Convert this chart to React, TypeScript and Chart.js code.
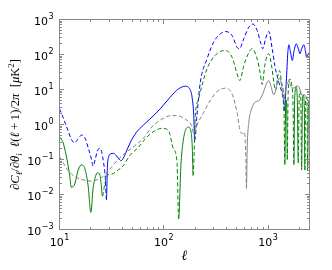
import React, { useEffect, useRef } from "react";
import { Chart, registerables } from "chart.js";

Chart.register(...registerables);

// multipole values and signed derivative values (negative => dashed)
const blueEll = [10, 10.5, 11, 12, 13, 13.9, 15, 16.3, 17.5, 19, 20.3, 21, 22, 23, 24.2, 25.3, 26.5, 27.5, 28.2, 28.8, 29.6, 31, 32.9, 35, 37, 39, 41, 43, 47.6, 54.7, 63.5, 74, 92.5, 115, 139, 161, 177, 187, 194, 198, 208, 224, 260, 301, 349, 390, 452, 505, 532, 585, 654, 717, 787, 847, 892, 946, 1019, 1097, 1162, 1270, 1400, 1432, 1496, 1550, 1585, 1640, 1709, 1780, 1867, 1950, 2022, 2110, 2210, 2290, 2345, 2420, 2500];
const blueVal = [-2.8, -2.0, -1.4, -0.7, -0.38, -0.3, -0.38, -0.5, -0.42, -0.2, -0.1, -0.065, -0.1, -0.17, -0.21, -0.17, -0.08, -0.03, 0.007, 0.06, 0.12, 0.145, 0.15, 0.13, 0.105, 0.093, 0.11, 0.15, 0.3, 0.6, 0.95, 1.45, 2.8, 6.0, 10.5, 12.4, 10.5, 6, 1.8, 0.35, -1.8, -16, -75, -225, -390, -454, -350, -160, -146, -280, -600, -740, -485, -225, -146, -280, -454, -146, -48, -16, -5, 2.5, 16, 116, 190, 120, 67, 130, 202, 150, 105, 150, 190, 120, 84, 100, 115];

const greenEll = [10, 10.4, 10.8, 11.6, 12.5, 13, 14, 15.1, 16.2, 17.5, 18.8, 20, 21, 22.1, 23.1, 24.4, 25.2, 25.8, 27.2, 28.8, 31.5, 36.5, 40.8, 47.3, 56.9, 66, 74, 85, 96, 111, 124, 134, 139, 146, 153, 161, 173, 183, 188, 191, 201, 216, 260, 301, 349, 390, 452, 505, 537, 585, 640, 705, 787, 840, 879, 931, 982, 1019, 1081, 1138, 1181, 1243, 1290, 1349, 1419, 1450, 1475, 1495, 1515, 1530, 1560, 1620, 1680, 1740, 1771, 1800, 1860, 1910, 1950, 1990, 2030, 2070, 2099, 2140, 2180, 2230, 2259, 2290, 2330, 2370, 2398, 2440, 2500];
const greenVal = [0.45, 0.38, 0.31, 0.13, 0.036, 0.016, 0.02, 0.05, 0.07, 0.055, 0.018, 0.0031, 0.015, 0.032, 0.042, 0.036, 0.018, 0.009, -0.02, -0.036, -0.038, -0.05, -0.066, -0.13, -0.22, -0.38, -0.53, -0.7, -0.78, -0.67, -0.2, -0.085, 0.002, 0.068, 0.31, 0.67, 0.84, 0.6, 0.2, 0.035, -1.8, -5.4, -39, -84, -122, -130, -84, -28, -18, -48, -98, -146, -75, -30, -14, -48, -94, -105, -48, -16, -9.4, -25, -35, -16, -4.3, 0.07, 3, 5, 2, -0.1, -8, -20, -15, -3, 0.07, 5, 12, 5, -0.08, -6, -9, -3, 0.05, 5, 7, 3, -0.05, -4, -6, -3, 0.05, 4, 5];

const grayEll = [10, 11, 12.1, 14, 16.2, 18, 20.2, 23.4, 27.2, 31.5, 36.5, 42.3, 53, 66, 74, 93, 120, 145, 160, 184, 195, 208, 241, 280, 325, 390, 452, 505, 546, 578, 595, 612, 621, 631, 654, 679, 710, 742, 790, 830, 870, 912, 960, 1019, 1070, 1138, 1190, 1240, 1298, 1360, 1419, 1470, 1530, 1585, 1660, 1771, 1870, 1977, 2060, 2133, 2210, 2300, 2400, 2500];
const grayVal = [-0.12, -0.075, -0.048, -0.033, -0.027, -0.025, -0.024, -0.027, -0.036, -0.06, -0.1, -0.15, -0.25, -0.45, -0.75, -1.35, -1.8, -1.7, -1.45, -0.95, -0.55, -0.95, -2.2, -4.9, -8.8, -10.9, -7.5, -2.2, -0.6, -0.55, -0.6, -0.13, 0.015, 0.2, 1.15, 2.2, 3.3, 4.2, 4.6, 5, 6.5, 9, 14, 18, 12, 7, 10, 17, 21, 11, 5, 9, 15, 17, 12, 11, 12.5, 12, 8.5, 6.7, 7.2, 6.5, 5.2, 4.5];

const xMajorTicks = [10, 100, 1000];
const xTickExps = ["1", "2", "3"];
const yMajorTicks = [1e-3, 1e-2, 1e-1, 1, 10, 100, 1000];
const yTickExps = ["\u22123", "\u22122", "\u22121", "0", "1", "2", "3"];
const xTitle = "\u2113";

const FRAME = "#888888";
const DASH = [4, 2.5];
const SANS = "'DejaVu Sans', sans-serif";
const SERIF = "'Liberation Serif', 'DejaVu Serif', serif";

function minorTicks(min: number, max: number): number[] {
  const out: number[] = [];
  for (let d = Math.floor(Math.log10(min)); d <= Math.ceil(Math.log10(max)); d++) {
    for (let k = 2; k <= 9; k++) {
      const v = k * Math.pow(10, d);
      if (v > min && v < max) out.push(v);
    }
  }
  return out;
}

function makeDataset(ell: number[], vals: number[], color: string) {
  return {
    data: ell.map((l, i) => ({ x: l, y: Math.abs(vals[i]) })),
    borderColor: color,
    borderWidth: 1,
    pointRadius: 0,
    fill: false,
    cubicInterpolationMode: "monotone" as const,
    segment: {
      borderDash: (ctx: any) => {
        const a = vals[ctx.p0DataIndex];
        const b = vals[ctx.p1DataIndex];
        const s = Math.abs(a) >= Math.abs(b) ? a : b;
        return s < 0 ? DASH : undefined;
      },
    },
  };
}

type Run = { t: string; it?: boolean; f?: number; dy?: number };
const yTitleRuns: Run[] = [
  { t: "\u2202" },
  { t: "C", it: true },
  { t: "\u2113", it: true, f: 0.7, dy: 0.22 },
  { t: "/\u2202" },
  { t: "\u03b8", it: true },
  { t: "i", it: true, f: 0.7, dy: 0.22 },
  { t: "\u2002" },
  { t: "\u2113", it: true },
  { t: "(" },
  { t: "\u2113", it: true },
  { t: "\u2009+\u20091)/2" },
  { t: "\u03c0", it: true },
  { t: "\u2002[" },
  { t: "\u03bc", it: true },
  { t: "K" },
  { t: "2", f: 0.7, dy: -0.42 },
  { t: "]" },
];

const axesPlugin = {
  id: "mplAxes",
  afterDatasetsDraw(chart: any) {
    const { ctx, chartArea: a, scales } = chart;
    const xs = scales.x;
    const ys = scales.y;
    ctx.save();
    ctx.strokeStyle = FRAME;
    ctx.lineWidth = 1;
    const line = (x1: number, y1: number, x2: number, y2: number) => {
      ctx.beginPath();
      ctx.moveTo(x1, y1);
      ctx.lineTo(x2, y2);
      ctx.stroke();
    };
    const snap = (p: number) => Math.floor(p) + 0.5;
    const MAJ = 4.5;
    const MIN = 2.5;
    const xTicks: [number, number][] = [
      ...xMajorTicks.map((v) => [v, MAJ] as [number, number]),
      ...minorTicks(10, 2500).map((v) => [v, MIN] as [number, number]),
    ];
    xTicks.forEach(([v, len]) => {
      const px = snap(xs.getPixelForValue(v));
      line(px, a.bottom, px, a.bottom - len);
      line(px, a.top, px, a.top + len);
    });
    const yTicks: [number, number][] = [
      ...yMajorTicks.map((v) => [v, MAJ] as [number, number]),
      ...minorTicks(1e-3, 1e3).map((v) => [v, MIN] as [number, number]),
    ];
    yTicks.forEach(([v, len]) => {
      const py = snap(ys.getPixelForValue(v));
      line(a.left, py, a.left + len, py);
      line(a.right, py, a.right - len, py);
    });
    ctx.strokeRect(a.left, a.top, a.right - a.left, a.bottom - a.top);

    ctx.fillStyle = "#000";
    ctx.textBaseline = "alphabetic";
    ctx.textAlign = "left";
    const baseFont = "11px " + SANS;
    const expFont = "8px " + SANS;
    const drawPow = (exp: string, x: number, baseY: number, align: string) => {
      ctx.font = baseFont;
      const wb = ctx.measureText("10").width;
      ctx.font = expFont;
      const we = ctx.measureText(exp).width;
      const total = wb + we + 0.5;
      const x0 = align === "right" ? x - total : x - total / 2;
      ctx.font = baseFont;
      ctx.fillText("10", x0, baseY);
      ctx.font = expFont;
      ctx.fillText(exp, x0 + wb + 0.5, baseY - 6);
    };
    xMajorTicks.forEach((v, i) => {
      drawPow(xTickExps[i], xs.getPixelForValue(v), a.bottom + 16.5, "center");
    });
    yMajorTicks.forEach((v, i) => {
      drawPow(yTickExps[i], a.left - 6, ys.getPixelForValue(v) + 5.5, "right");
    });

    ctx.font = "italic 14px " + SERIF;
    ctx.textAlign = "center";
    ctx.fillText(xTitle, (a.left + a.right) / 2, a.bottom + 30.5);

    const size = 12.6;
    const fontOf = (r: Run) => `${r.it ? "italic " : ""}${(size * (r.f || 1)).toFixed(2)}px ${SERIF}`;
    let total = 0;
    ctx.textAlign = "left";
    yTitleRuns.forEach((r) => {
      ctx.font = fontOf(r);
      total += ctx.measureText(r.t).width;
    });
    ctx.translate(19, (a.top + a.bottom) / 2);
    ctx.rotate(-Math.PI / 2);
    let x = -total / 2;
    yTitleRuns.forEach((r) => {
      ctx.font = fontOf(r);
      ctx.fillText(r.t, x, (r.dy || 0) * size);
      x += ctx.measureText(r.t).width;
    });
    ctx.restore();
  },
};

export default function App() {
  const ref = useRef<HTMLCanvasElement>(null);
  useEffect(() => {
    const chart = new Chart(ref.current as HTMLCanvasElement, {
      type: "line",
      data: {
        datasets: [
          makeDataset(grayEll, grayVal, "#808080"),
          makeDataset(greenEll, greenVal, "#008000"),
          makeDataset(blueEll, blueVal, "#0000ff"),
        ] as any,
      },
      options: {
        animation: false,
        responsive: false,
        devicePixelRatio: 1,
        layout: { padding: { left: 59.5, top: 19.5, right: 22.5, bottom: 40.5 } },
        plugins: { legend: { display: false }, tooltip: { enabled: false } },
        scales: {
          x: { type: "logarithmic", min: 10, max: 2500, display: false },
          y: { type: "logarithmic", min: 1e-3, max: 1e3, display: false },
        },
      } as any,
      plugins: [axesPlugin],
    });
    return () => chart.destroy();
  }, []);
  return (
    <div style={{ position: "fixed", left: 0, top: 0, width: 332, height: 270, background: "#fff" }}>
      <canvas ref={ref} width={332} height={270} style={{ display: "block", width: 332, height: 270 }} />
    </div>
  );
}
